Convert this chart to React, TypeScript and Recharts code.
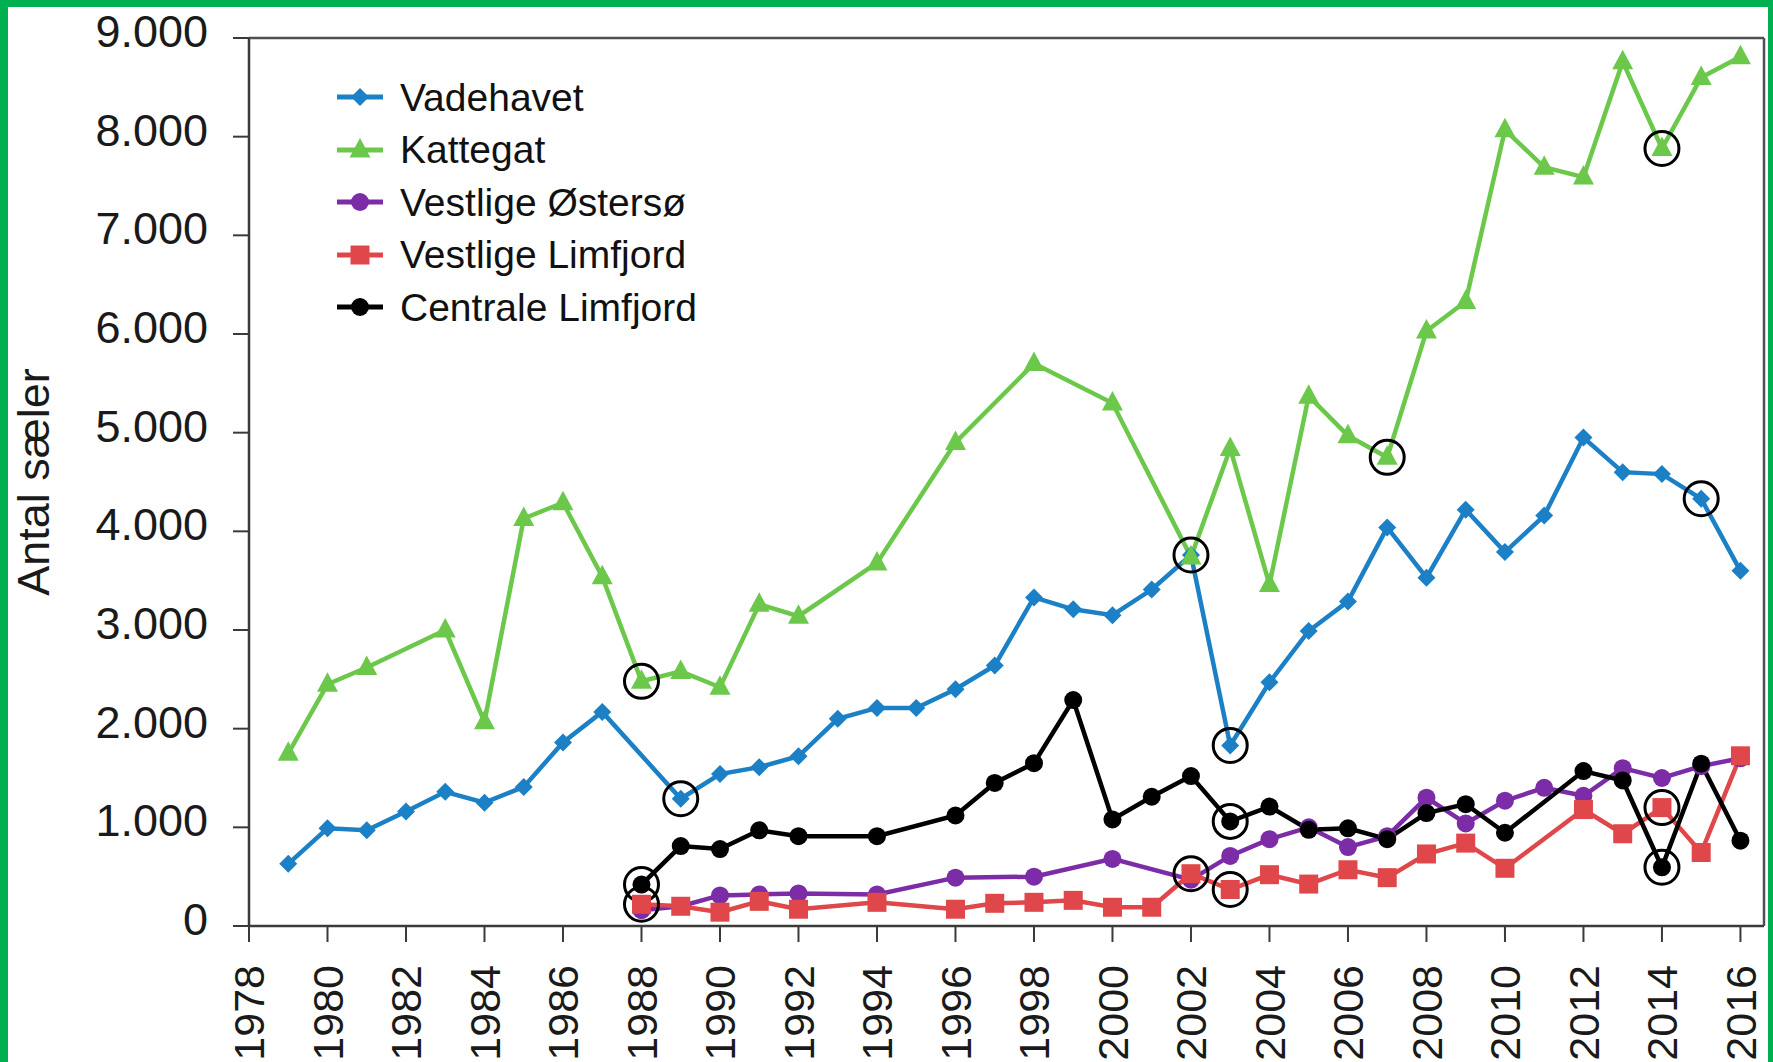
import React from 'react';
import {Legend, Line, LineChart, ReferenceDot, ReferenceLine, XAxis, YAxis} from 'recharts';

// Vadehavet
const vadehavetYears = [1979, 1980, 1981, 1982, 1983, 1984, 1985, 1986, 1987, 1989, 1990, 1991, 1992, 1993, 1994, 1995, 1996, 1997, 1998, 1999, 2000, 2001, 2002, 2003, 2004, 2005, 2006, 2007, 2008, 2009, 2010, 2011, 2012, 2013, 2014, 2015, 2016];
const vadehavetValues = [630, 990, 970, 1160, 1360, 1250, 1410, 1860, 2170, 1290, 1540, 1610, 1720, 2100, 2210, 2210, 2400, 2640, 3330, 3210, 3150, 3410, 3760, 1830, 2470, 2990, 3290, 4040, 3530, 4220, 3790, 4160, 4950, 4600, 4580, 4330, 3600];
const vadehavetCircled = [1989, 2002, 2003, 2015];

// Kattegat
const kattegatYears = [1979, 1980, 1981, 1983, 1984, 1985, 1986, 1987, 1988, 1989, 1990, 1991, 1992, 1994, 1996, 1998, 2000, 2002, 2003, 2004, 2005, 2006, 2007, 2008, 2009, 2010, 2011, 2012, 2013, 2014, 2015, 2016];
const kattegatValues = [1750, 2450, 2620, 3000, 2070, 4130, 4290, 3540, 2480, 2580, 2420, 3260, 3140, 3680, 4900, 5700, 5300, 3740, 4840, 3460, 5370, 4970, 4750, 6030, 6330, 8070, 7690, 7590, 8760, 7880, 8600, 8810];
const kattegatCircled = [1988, 2007, 2014];

// Vestlige Østersø
const ostersoYears = [1988, 1989, 1990, 1991, 1992, 1994, 1996, 1998, 2000, 2002, 2003, 2004, 2005, 2006, 2007, 2008, 2009, 2010, 2011, 2012, 2013, 2014, 2015, 2016];
const ostersoValues = [160, 200, 310, 320, 330, 320, 490, 500, 680, 470, 710, 880, 1000, 800, 910, 1300, 1040, 1270, 1400, 1320, 1600, 1500, 1620, 1700];
const ostersoCircled: number[] = [];

// Vestlige Limfjord
const vestLimfjordYears = [1988, 1989, 1990, 1991, 1992, 1994, 1996, 1997, 1998, 1999, 2000, 2001, 2002, 2003, 2004, 2005, 2006, 2007, 2008, 2009, 2010, 2012, 2013, 2014, 2015, 2016];
const vestLimfjordValues = [220, 200, 140, 250, 170, 240, 170, 230, 240, 260, 190, 190, 530, 370, 520, 425, 570, 490, 730, 840, 585, 1180, 935, 1200, 745, 1725];
const vestLimfjordCircled = [1988, 2002, 2003, 2014];

// Centrale Limfjord
const centralLimfjordYears = [1988, 1989, 1990, 1991, 1992, 1994, 1996, 1997, 1998, 1999, 2000, 2001, 2002, 2003, 2004, 2005, 2006, 2007, 2008, 2009, 2010, 2012, 2013, 2014, 2015, 2016];
const centralLimfjordValues = [420, 810, 780, 970, 910, 910, 1120, 1450, 1650, 2290, 1080, 1310, 1520, 1060, 1210, 975, 990, 880, 1145, 1235, 945, 1570, 1475, 595, 1645, 865];
const centralLimfjordCircled = [1988, 2003, 2014];

const xTicks = [1978, 1980, 1982, 1984, 1986, 1988, 1990, 1992, 1994, 1996, 1998, 2000, 2002, 2004, 2006, 2008, 2010, 2012, 2014, 2016];
const yTicks = [0, 1000, 2000, 3000, 4000, 5000, 6000, 7000, 8000, 9000];

const FONT = '"Liberation Sans", Arial, Helvetica, sans-serif';
const AXIS = '#3a3a3a';

type Shape = 'diamond' | 'triangle' | 'circle' | 'square';

const series = [
    {name: 'Vadehavet', color: '#1c80c6', shape: 'diamond' as Shape, years: vadehavetYears, values: vadehavetValues, circled: vadehavetCircled},
    {name: 'Kattegat', color: '#6cc84b', shape: 'triangle' as Shape, years: kattegatYears, values: kattegatValues, circled: kattegatCircled},
    {name: 'Vestlige Østersø', color: '#7b2ca6', shape: 'circle' as Shape, years: ostersoYears, values: ostersoValues, circled: ostersoCircled},
    {name: 'Vestlige Limfjord', color: '#e0474a', shape: 'square' as Shape, years: vestLimfjordYears, values: vestLimfjordValues, circled: vestLimfjordCircled},
    {name: 'Centrale Limfjord', color: '#000000', shape: 'circle' as Shape, years: centralLimfjordYears, values: centralLimfjordValues, circled: centralLimfjordCircled},
];

const toPoints = (years: number[], values: number[]) => years.map((year, i) => ({year, value: values[i]}));

const formatThousands = (v: number) => String(v).replace(/\B(?=(\d{3})+(?!\d))/g, '.');

const Marker = ({shape, cx, cy, color}: {shape: Shape, cx: number, cy: number, color: string}) => {
    if (cx == null || cy == null) return null;
    switch (shape) {
        case 'diamond':
            return <polygon points={`${cx},${cy - 9} ${cx + 9},${cy} ${cx},${cy + 9} ${cx - 9},${cy}`} fill={color}/>;
        case 'triangle':
            return <polygon points={`${cx},${cy - 12} ${cx + 10.5},${cy + 7.5} ${cx - 10.5},${cy + 7.5}`} fill={color}/>;
        case 'square':
            return <rect x={cx - 9.5} y={cy - 9.5} width={19} height={19} fill={color}/>;
        default:
            return <circle cx={cx} cy={cy} r={9} fill={color}/>;
    }
};

const XTick = ({x, y, payload}: any) => (
    <text
        transform={`translate(${x},${y + 23}) rotate(-90)`}
        textAnchor="end"
        dy="0.35em"
        fontSize={43}
        fontFamily={FONT}
        fill="#1a1a1a"
    >
        {payload.value}
    </text>
);

const YTick = ({x, y, payload}: any) => (
    <text x={x} y={y} dy={9} textAnchor="end" fontSize={45} fontFamily={FONT} fill="#1a1a1a">
        {formatThousands(payload.value)}
    </text>
);

const YLabel = ({viewBox}: any) => {
    const cy = viewBox.y + viewBox.height / 2;
    return (
        <text
            transform={`translate(49,${cy}) rotate(-90)`}
            textAnchor="middle"
            fontSize={45}
            fontFamily={FONT}
            fill="#1a1a1a"
        >
            Antal sæler
        </text>
    );
};

const renderLegend = () => (
    <div style={{fontFamily: FONT}}>
        {series.map((s) => (
            <div key={s.name} style={{display: 'flex', alignItems: 'center', height: 52.5}}>
                <svg width={46} height={24} style={{marginRight: 17}}>
                    <line x1={0} y1={12} x2={46} y2={12} stroke={s.color} strokeWidth={5}/>
                    <Marker shape={s.shape} cx={23} cy={12} color={s.color}/>
                </svg>
                <span style={{fontSize: 39, color: '#111', whiteSpace: 'nowrap', lineHeight: 1}}>{s.name}</span>
            </div>
        ))}
    </div>
);

export default function App() {
    return (
        <div style={{position: 'absolute', left: 0, top: 0, width: 1773, height: 1062, background: '#00b050', overflow: 'hidden'}}>
            <div style={{position: 'absolute', left: 8, top: 7, width: 1760, height: 1055, background: '#ffffff'}}/>
            <div style={{position: 'absolute', left: 0, top: 0}}>
                <LineChart width={1773} height={1062} margin={{top: 38, right: 9, left: 0, bottom: 0}}>
                    <XAxis
                        type="number"
                        dataKey="year"
                        domain={[1978, 2016.6]}
                        allowDataOverflow
                        ticks={xTicks}
                        interval={0}
                        height={136}
                        tickSize={16}
                        tickMargin={0}
                        axisLine={{stroke: AXIS, strokeWidth: 2.5}}
                        tickLine={{stroke: AXIS, strokeWidth: 2}}
                        tick={<XTick/>}
                    />
                    <YAxis
                        type="number"
                        domain={[0, 9000]}
                        allowDataOverflow
                        ticks={yTicks}
                        interval={0}
                        width={249}
                        tickSize={16}
                        tickMargin={25}
                        axisLine={{stroke: AXIS, strokeWidth: 2.5}}
                        tickLine={{stroke: AXIS, strokeWidth: 2}}
                        tick={<YTick/>}
                        label={<YLabel/>}
                    />
                    <ReferenceLine y={9000} stroke="#505050" strokeWidth={2.5}/>
                    <ReferenceLine x={2016.6} stroke="#505050" strokeWidth={2.5}/>
                    {series.map((s) => (
                        <Line
                            key={s.name}
                            name={s.name}
                            data={toPoints(s.years, s.values)}
                            dataKey="value"
                            stroke={s.color}
                            strokeWidth={4.5}
                            dot={(p: any) => <Marker key={`${s.name}-${p.index}`} shape={s.shape} cx={p.cx} cy={p.cy} color={s.color}/>}
                            activeDot={false}
                            isAnimationActive={false}
                        />
                    ))}
                    {series.flatMap((s) =>
                        s.circled.map((year) => (
                            <ReferenceDot
                                key={`${s.name}-c-${year}`}
                                x={year}
                                y={s.values[s.years.indexOf(year)]}
                                r={17}
                                fill="none"
                                stroke="#000"
                                strokeWidth={3}
                            />
                        ))
                    )}
                    <Legend
                        layout="vertical"
                        align="center"
                        verticalAlign="middle"
                        wrapperStyle={{left: 337, top: 71, width: 'auto'}}
                        content={renderLegend}
                    />
                </LineChart>
            </div>
        </div>
    );
}
